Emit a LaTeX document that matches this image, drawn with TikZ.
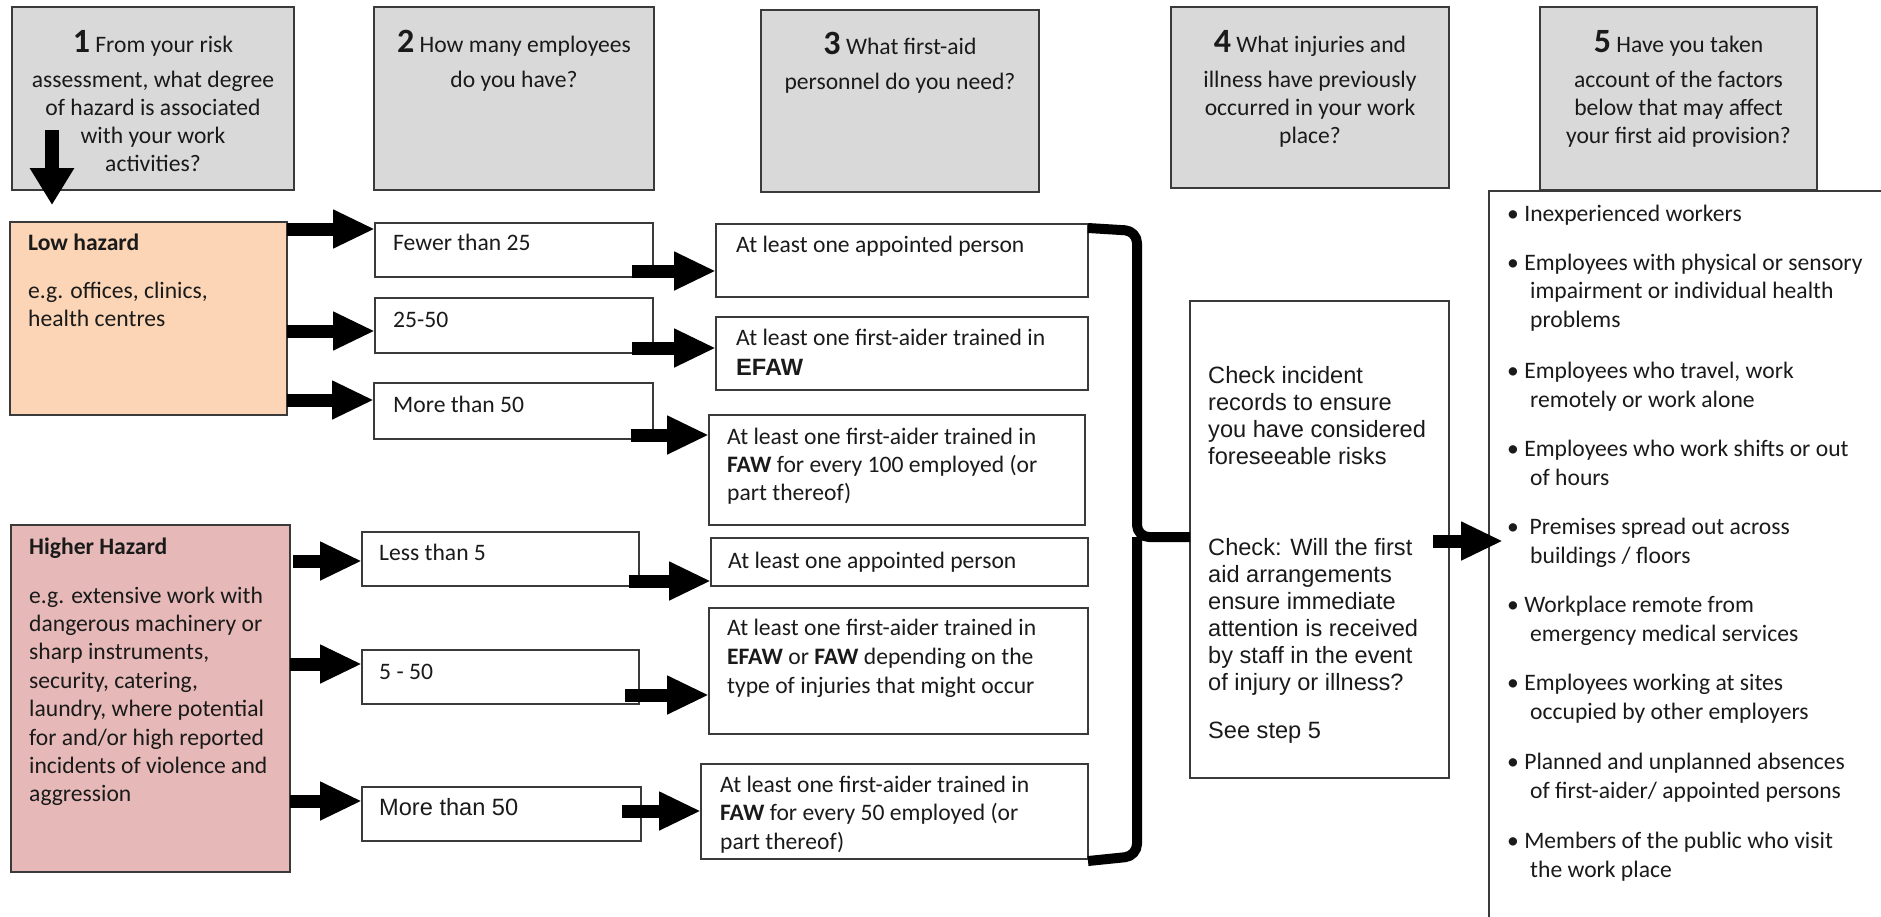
\documentclass[tikz,border=0pt]{standalone}
\usepackage{fontspec}
\setmainfont{Carlito}
\newfontfamily\arialf{Liberation Sans}
\usetikzlibrary{arrows.meta,calc}
\definecolor{hdrfill}{HTML}{D9D9D9}
\definecolor{lowfill}{HTML}{FBD5B5}
\definecolor{highfill}{HTML}{E6B9B8}
\definecolor{edge}{HTML}{3A3A3A}
\definecolor{ink}{HTML}{1A1A1A}
\newcommand\firstln{\rule{0pt}{22pt}}
\newcommand\hdrln{\rule{0pt}{30pt}}
\newcommand\bigdigit[1]{{\fontsize{34}{34}\selectfont\bfseries #1}}
\newcommand\ind{\hspace*{23pt}}
\begin{document}
\begin{tikzpicture}[x=1pt,y=-1pt,
  hdr/.style={draw=edge, line width=2pt, fill=hdrfill, anchor=north west, inner sep=0pt, outer sep=0pt},
  box/.style={draw=edge, line width=1.6pt, fill=white, anchor=north west, inner sep=0pt, outer sep=0pt},
  txt/.style={anchor=north west, inner sep=0pt, align=left, text=ink, font=\fontsize{23.6}{28.5}\selectfont},
  ltxt/.style={anchor=north west, inner sep=0pt, align=left, text=ink, font=\fontsize{23.6}{29}\selectfont},
  htxt/.style={anchor=north, inner sep=0pt, align=center, text=ink, font=\fontsize{23.6}{28}\selectfont},
  atxt/.style={anchor=north west, inner sep=0pt, align=left, text=ink, font=\arialf\fontsize{23.6}{27}\selectfont},
  barrow/.style={line width=13pt, -{Triangle[width=36pt,length=42pt]}},
  darrow/.style={line width=14pt, -{Triangle[width=42pt,length=37pt]}},
  brace/.style={line width=10pt, rounded corners=12pt, line join=round},
]
\useasboundingbox (0,0) rectangle (1881,916);
\fill[white] (0,0) rectangle (1881,916);

% header boxes
\node[hdr, minimum width=282pt, minimum height=183pt] (h1) at (12,7) {};
\node[hdr, minimum width=280pt, minimum height=183pt] (h2) at (374,7) {};
\node[hdr, minimum width=278pt, minimum height=182pt] (h3) at (761,10) {};
\node[hdr, minimum width=278pt, minimum height=181pt] (h4) at (1171,7) {};
\node[hdr, minimum width=277pt, minimum height=183pt] (h5) at (1540,7) {};

\node[htxt] (h1t) at ($(h1.north)+(0,15)$) {\hdrln\bigdigit{1} From your risk\\[7pt] assessment, what degree\\ of hazard is associated\\ with your work\\ activities?};
\node[htxt] (h2t) at ($(h2.north)+(0,15)$) {\hdrln\bigdigit{2} How many employees\\[7pt] do you have?};
\node[htxt] (h3t) at ($(h3.north)+(0,14)$) {\hdrln\bigdigit{3} What first-aid\\[7pt] personnel do you need?};
\node[htxt] (h4t) at ($(h4.north)+(0,15)$) {\hdrln\bigdigit{4} What injuries and\\[7pt] illness have previously\\ occurred in your work\\ place?};
\node[htxt] (h5t) at ($(h5.north)+(0,15)$) {\hdrln\bigdigit{5} Have you taken\\[7pt] account of the factors\\ below that may affect\\ your first aid provision?};

% hazard boxes
\node[box, fill=lowfill, minimum width=277pt, minimum height=193pt] (low) at (10,222) {};
\node[box, fill=highfill, minimum width=279pt, minimum height=347pt] (high) at (11,525) {};
\node[txt] (lowt) at (28,228) {\firstln\textbf{Low hazard}\\[19.5pt] e.g. offices, clinics,\\ health centres};
\node[txt, font=\fontsize{23.6}{28.4}\selectfont] (hight) at (29,532) {\firstln\textbf{Higher Hazard}\\[20.5pt] e.g. extensive work with\\ dangerous machinery or\\ sharp instruments,\\ security, catering,\\ laundry, where potential\\ for and/or high reported\\ incidents of violence and\\ aggression};

% column 2
\node[box, minimum width=278pt, minimum height=54pt] (f25) at (375,223) {};
\node[box, minimum width=278pt, minimum height=55pt] (f2550) at (375,298) {};
\node[box, minimum width=279pt, minimum height=56pt] (m50) at (374,383) {};
\node[box, minimum width=277pt, minimum height=54pt] (l5) at (362,532) {};
\node[box, minimum width=277pt, minimum height=54pt] (f550) at (362,650) {};
\node[box, minimum width=279pt, minimum height=54pt] (m50h) at (362,787) {};
\node[txt, anchor=base west] (f25t) at (393,250) {Fewer than 25};
\node[txt, anchor=base west] (f2550t) at (393,327) {25-50};
\node[txt, anchor=base west] (m50t) at (393,412) {More than 50};
\node[txt, anchor=base west] (l5t) at (379,560) {Less than 5};
\node[txt, anchor=base west] (f550t) at (379,679) {5 - 50};
\node[atxt, anchor=base west] (m50ht) at (379,815) {More than 50};

% column 3
\node[box, minimum width=372pt, minimum height=73pt] (a1) at (716,224) {};
\node[box, minimum width=372pt, minimum height=73pt] (a2) at (716,317) {};
\node[box, minimum width=376pt, minimum height=110pt] (a3) at (709,415) {};
\node[box, minimum width=377pt, minimum height=48pt] (b1) at (711,538) {};
\node[box, minimum width=379pt, minimum height=126pt] (b2) at (709,608) {};
\node[box, minimum width=387pt, minimum height=95pt] (b3) at (701,764) {};
\node[txt, anchor=base west] (a1t) at (736,252) {At least one appointed person};
\node[txt] (a2t) at (736,323) {\firstln At least one first-aider trained in\\[1.5pt] {\arialf\bfseries EFAW}};
\node[txt, font=\fontsize{23.6}{28}\selectfont] (a3t) at (727,422) {\firstln At least one first-aider trained in\\ \textbf{FAW} for every 100 employed (or\\ part thereof)};
\node[txt, anchor=base west] (b1t) at (728,568) {At least one appointed person};
\node[txt, font=\fontsize{23.6}{29}\selectfont] (b2t) at (727,613) {\firstln At least one first-aider trained in\\ \textbf{EFAW} or \textbf{FAW} depending on the\\ type of injuries that might occur};
\node[txt, font=\fontsize{23.6}{28.5}\selectfont] (b3t) at (720,770) {\firstln At least one first-aider trained in\\ \textbf{FAW} for every 50 employed (or\\ part thereof)};

% column 4
\node[box, minimum width=259pt, minimum height=477pt] (chk) at (1190,301) {};
\node[atxt] (chk1) at (1208,361) {\firstln Check incident\\ records to ensure\\ you have considered\\ foreseeable risks};
\node[atxt] (chk2) at (1208,533) {\firstln Check: Will the first\\ aid arrangements\\ ensure immediate\\ attention is received\\ by staff in the event\\ of injury or illness?};
\node[atxt, anchor=base west] (chk3) at (1208,738) {See step 5};

% column 5 list
\begin{scope}
\clip (0,0) rectangle (1881,916);
\node[box, minimum width=600pt, minimum height=800pt] (lst) at (1489,191) {};
\end{scope}
\node[ltxt] (f1) at (1507,199) {\firstln\textbullet\ Inexperienced workers};
\node[ltxt, font=\fontsize{23.6}{28.5}\selectfont] (f2) at (1507,248) {\firstln\textbullet\ Employees with physical or sensory\\ \ind impairment or individual health\\ \ind problems};
\node[ltxt] (f3) at (1507,356) {\firstln\textbullet\ Employees who travel, work\\ \ind remotely or work alone};
\node[ltxt] (f4) at (1507,434) {\firstln\textbullet\ Employees who work shifts or out\\ \ind of hours};
\node[ltxt] (f5) at (1507,512) {\firstln\textbullet\ \ Premises spread out across\\ \ind buildings / floors};
\node[ltxt] (f6) at (1507,590) {\firstln\textbullet\ Workplace remote from\\ \ind emergency medical services};
\node[ltxt] (f7) at (1507,668) {\firstln\textbullet\ Employees working at sites\\ \ind occupied by other employers};
\node[ltxt] (f8) at (1507,747) {\firstln\textbullet\ Planned and unplanned absences\\ \ind of first-aider/ appointed persons};
\node[ltxt] (f9) at (1507,826) {\firstln\textbullet\ Members of the public who visit\\ \ind the work place};

% arrows
\draw[darrow] ($(h1.south west)+(40,-60)$) -- ($(low.north west)+(42,-17)$);
\draw[barrow] (low.east |- 0,229) -- (f25.west |- 0,229);
\draw[barrow] (low.east |- 0,331) -- (f2550.west |- 0,331);
\draw[barrow] (low.east |- 0,400) -- (m50.west |- 0,400);
\draw[barrow] ($(high.east |- 0,561)+(3,0)$) -- (l5.west |- 0,561);
\draw[barrow] (high.east |- 0,664) -- (f550.west |- 0,664);
\draw[barrow] (high.east |- 0,801) -- (m50h.west |- 0,801);
\draw[barrow] ($(f25.east |- 0,271)+(-21,0)$) -- (a1.west |- 0,271);
\draw[barrow] ($(f2550.east |- 0,348)+(-21,0)$) -- (a2.west |- 0,348);
\draw[barrow] ($(m50.east |- 0,435)+(-22,0)$) -- (a3.west |- 0,435);
\draw[barrow] ($(l5.east |- 0,581)+(-10,0)$) -- (b1.west |- 0,581);
\draw[barrow] ($(f550.east |- 0,695)+(-14,0)$) -- (b2.west |- 0,695);
\draw[barrow] ($(m50h.east |- 0,811)+(-19,0)$) -- (b3.west |- 0,811);
\draw[barrow] ($(chk.east |- 0,541)+(-16,0)$) -- ($(lst.west |- 0,541)+(14,0)$);

% brace
\draw[brace] ($(a1.north east)+(0,4)$) -- ($(a1.north east)+(49,7)$) -- ($(a1.north east)+(49,313)$) -- (chk.west |- 0,537);
\draw[brace] ($(a1.north east)+(49,313)$) -- ($(b3.south east)+(49,-3)$) -- ($(b3.south east)+(0,2)$);
\end{tikzpicture}
\end{document}
